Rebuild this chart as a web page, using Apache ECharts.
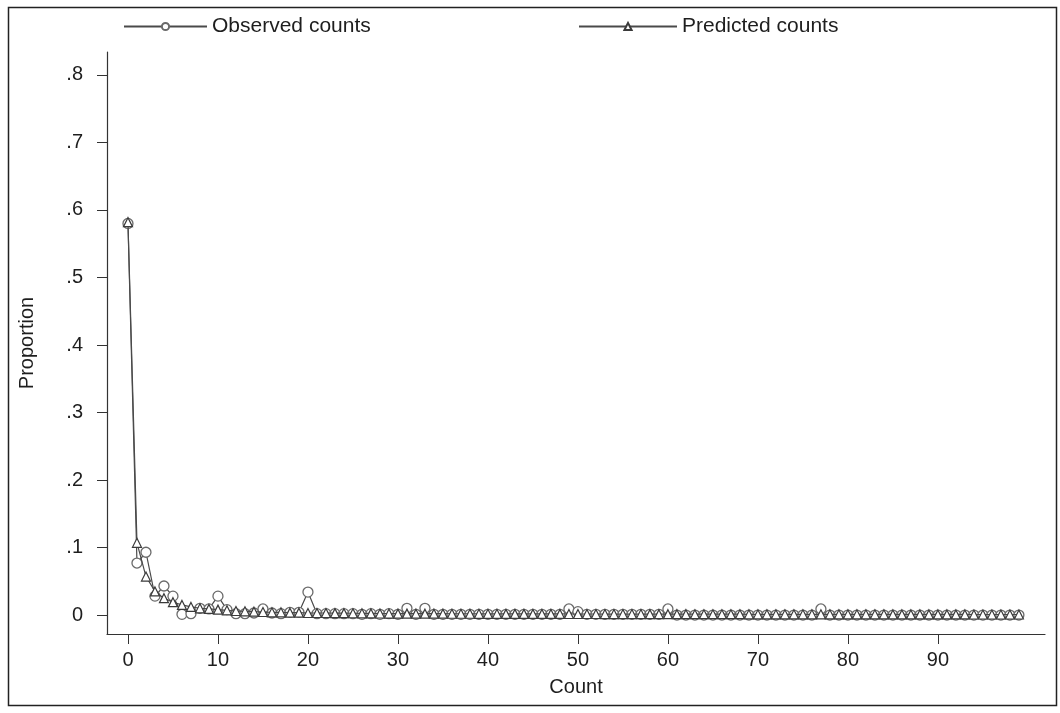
<!DOCTYPE html>
<html>
<head>
<meta charset="utf-8">
<script src="https://cdn.jsdelivr.net/npm/echarts@6/dist/echarts.min.js"></script>
<style>
  html, body { margin: 0; padding: 0; background: #fff; }
  #chart { width: 1060px; height: 713px; }
</style>
</head>
<body>
<div id="chart"></div>
<script>
// Count values 0..99 on the horizontal axis
const counts = Array.from({ length: 100 }, (_, i) => i);

// Observed proportion for each count
const observed = [
  0.580, 0.077, 0.093, 0.028, 0.043, 0.028, 0.001, 0.002, 0.010, 0.009,
  0.028, 0.008, 0.002, 0.002, 0.003, 0.009, 0.003, 0.002, 0.004, 0.004,
  0.034, 0.002, 0.002, 0.002, 0.002, 0.002, 0.001, 0.002, 0.001, 0.002,
  0.001, 0.010, 0.001, 0.010, 0.001, 0.001, 0.001, 0.001, 0.001, 0.001,
  0.001, 0.001, 0.001, 0.001, 0.001, 0.001, 0.001, 0.001, 0.001, 0.009,
  0.005, 0.001, 0.001, 0.001, 0.001, 0.001, 0.001, 0.001, 0.001, 0.001,
  0.009, 0.000, 0.000, 0.000, 0.000, 0.000, 0.000, 0.000, 0.000, 0.000,
  0.000, 0.000, 0.000, 0.000, 0.000, 0.000, 0.000, 0.009, 0.000, 0.000,
  0.000, 0.000, 0.000, 0.000, 0.000, 0.000, 0.000, 0.000, 0.000, 0.000,
  0.000, 0.000, 0.000, 0.000, 0.000, 0.000, 0.000, 0.000, 0.000, 0.000
];

// Model-predicted proportion for each count
const predicted = [
  0.582, 0.107, 0.057, 0.035, 0.025, 0.019, 0.015, 0.012, 0.010, 0.009,
  0.008, 0.007, 0.006, 0.0055, 0.005, 0.0045, 0.004, 0.004, 0.0035, 0.0035,
  0.003, 0.003, 0.003, 0.0028, 0.0027, 0.0026, 0.0025, 0.0024, 0.0023, 0.0022,
  0.0021, 0.0021, 0.002, 0.002, 0.002, 0.002, 0.0019, 0.0019, 0.0019, 0.0018,
  0.0018, 0.0018, 0.0017, 0.0017, 0.0017, 0.0016, 0.0016, 0.0016, 0.0016, 0.0015,
  0.0015, 0.0015, 0.0015, 0.0014, 0.0014, 0.0014, 0.0014, 0.0014, 0.0013, 0.0013,
  0.0013, 0.0013, 0.0013, 0.0012, 0.0012, 0.0012, 0.0012, 0.0012, 0.0012, 0.0011,
  0.0011, 0.0011, 0.0011, 0.0011, 0.0011, 0.0011, 0.001, 0.001, 0.001, 0.001,
  0.001, 0.001, 0.001, 0.001, 0.001, 0.0009, 0.0009, 0.0009, 0.0009, 0.0009,
  0.0009, 0.0009, 0.0009, 0.0009, 0.0008, 0.0008, 0.0008, 0.0008, 0.0008, 0.0008
];

// Tick positions and their labels
const xTicks = [0, 10, 20, 30, 40, 50, 60, 70, 80, 90];
const yTicks = [0, 0.1, 0.2, 0.3, 0.4, 0.5, 0.6, 0.7, 0.8];
const yTickLabels = ['0', '.1', '.2', '.3', '.4', '.5', '.6', '.7', '.8'];

const FONT = '"Liberation Sans", Arial, sans-serif';
const INK = '#1e1e1e';
const LINE = '#4a4a4a';

const chart = echarts.init(document.getElementById('chart'), null, { renderer: 'canvas' });

const legendText = { fontFamily: FONT, fontSize: 21, color: INK };

chart.setOption({
  animation: false,
  backgroundColor: '#fff',
  graphic: [{
    type: 'rect',
    shape: { x: 8.5, y: 7.5, width: 1048, height: 698 },
    style: { fill: 'none', stroke: '#222', lineWidth: 1.5 },
    silent: true
  }],
  legend: [
    {
      data: ['Observed counts'],
      left: 123, top: 16, padding: 0,
      itemWidth: 83, itemHeight: 9, itemGap: 0,
      textStyle: legendText
    },
    {
      data: ['Predicted counts'],
      left: 578, top: 16, padding: 0,
      itemWidth: 98, itemHeight: 9, itemGap: 0,
      textStyle: legendText
    }
  ],
  grid: { left: 107, right: 15, top: 52, bottom: 79, containLabel: false },
  xAxis: {
    type: 'value',
    min: -2.33, max: 101.9,
    name: 'Count',
    nameLocation: 'middle',
    nameGap: 43,
    nameTextStyle: { fontFamily: FONT, fontSize: 20, color: INK },
    axisLine: { show: true, onZero: false, lineStyle: { color: '#333', width: 1.2 } },
    axisTick: { show: true, customValues: xTicks, length: 10, lineStyle: { color: '#333' } },
    axisLabel: {
      customValues: xTicks,
      fontFamily: FONT, fontSize: 20, color: INK, margin: 16
    },
    splitLine: { show: false }
  },
  yAxis: {
    type: 'value',
    min: -0.0281, max: 0.834,
    name: 'Proportion',
    nameLocation: 'middle',
    nameRotate: 90,
    nameGap: 70,
    nameTextStyle: { fontFamily: FONT, fontSize: 20, color: INK },
    axisLine: { show: true, onZero: false, lineStyle: { color: '#333', width: 1.2 } },
    axisTick: { show: true, customValues: yTicks, length: 10, lineStyle: { color: '#333' } },
    axisLabel: {
      customValues: yTicks,
      formatter: v => {
        const i = yTicks.findIndex(t => Math.abs(t - v) < 1e-9);
        return i >= 0 ? yTickLabels[i] : '';
      },
      fontFamily: FONT, fontSize: 20, color: INK, margin: 24
    },
    splitLine: { show: false }
  },
  series: [
    {
      name: 'Observed counts',
      type: 'line',
      data: counts.map((c, i) => [c, observed[i]]),
      symbol: 'circle',
      symbolSize: 10,
      showAllSymbol: true,
      lineStyle: { color: LINE, width: 1.2 },
      itemStyle: { color: '#fff', borderColor: '#6a6a6a', borderWidth: 1.3 },
      z: 2
    },
    {
      name: 'Predicted counts',
      type: 'line',
      data: counts.map((c, i) => [c, predicted[i]]),
      symbol: 'triangle',
      symbolSize: 9,
      showAllSymbol: true,
      lineStyle: { color: LINE, width: 1.2 },
      itemStyle: { color: '#fff', borderColor: '#3a3a3a', borderWidth: 1.2 },
      z: 3
    }
  ]
});
</script>
</body>
</html>
